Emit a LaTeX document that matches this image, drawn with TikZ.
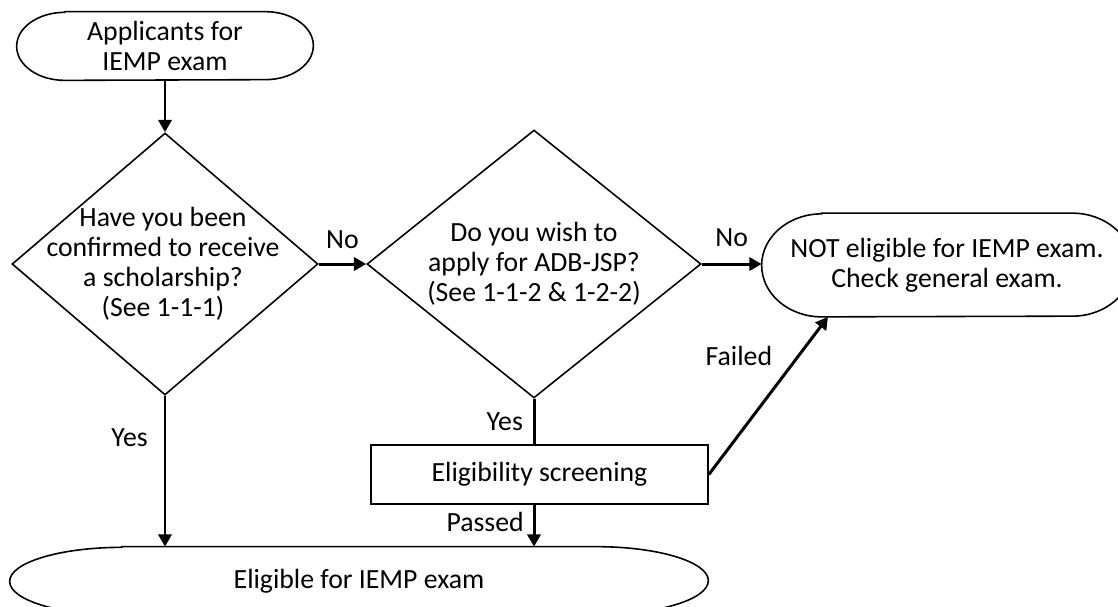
\documentclass[tikz,border=0pt]{standalone}
\usepackage{fontspec}
\setmainfont{Carlito}
\usetikzlibrary{shapes.geometric,arrows.meta,calc,positioning}
\newcommand{\pxu}{0.02cm}
\tikzset{
    -{Triangle[length=7pt,width=7.5pt]},auto,
    every edge/.append style={line width=1.7pt},
    txt/.style = {font=\fontsize{15.8}{17}\selectfont, align=center},
    term/.style ={txt, inner sep=0pt},
    decision/.style ={diamond, draw, line width=0.9pt, inner sep=0pt},
    process/.style ={txt, rectangle, draw, line width=0.9pt},
    el/.style = {txt, inner sep=2pt}
}
% terminator outline round a node: name, x radius, y radius
\newcommand{\termshape}[3]{%
  \draw[-,line width=0.9pt] ($(#1.north west)+(#2,0)$) -- ($(#1.north east)+(-#2,0)$)
    arc[start angle=90,end angle=-90,x radius=#2*\pxu,y radius=#3*\pxu]
    -- ($(#1.south west)+(#2,0)$)
    arc[start angle=270,end angle=90,x radius=#2*\pxu,y radius=#3*\pxu] -- cycle;}

\begin{document}
\begin{tikzpicture}[x=\pxu,y=\pxu]
  \useasboundingbox (0,0) rectangle (1118,-606);
  \clip (0,0) rectangle (1118,-606);

  \node[term, minimum width=296*\pxu, minimum height=68*\pxu] (start) at (165,-46) {Applicants for\\IEMP exam};

  \node[decision, minimum width=306*\pxu, minimum height=262*\pxu,
    label={[txt, xshift=-2*\pxu]center:{Have you been\\confirmed to receive\\a scholarship?\\(See 1-1-1)}}] (q1) at (165,-264) {};

  \node[decision, minimum width=334*\pxu, minimum height=268*\pxu,
    label={[txt]center:{Do you wish to\\apply for ADB-JSP?\\(See 1-1-2 \& 1-2-2)}}] (q2) at (534,-264) {};

  \node[term, minimum width=370*\pxu, minimum height=103*\pxu] (notel) at (947,-265) {NOT eligible for IEMP exam.\\Check general exam.};

  \node[process, minimum width=337*\pxu, minimum height=59*\pxu] (screen) at (539.5,-474.5) {Eligibility screening};

  \node[term, minimum width=698*\pxu, minimum height=68*\pxu] (eligible) at (359,-581) {Eligible for IEMP exam};

  \termshape{start}{48}{34}
  \termshape{notel}{60}{51.5}
  \termshape{eligible}{112}{34}

  \path (start) edge (q1);

  \path (q1) edge node[el, above=6pt] {No} (q2);

  \path (q2) edge node[el, above=7pt] {No} (q2.east -| notel.west);

  \path (q1) edge node[el, left=7pt, pos=0.28] {Yes} (q1 |- eligible.north);

  \path (q2) edge[-] node[el, left=3.5pt] {Yes} (q2 |- screen.north);

  \path (q2 |- screen.south) edge node[el, left=3pt, pos=0.41] {Passed} (q2 |- eligible.north);

  \path (screen.east) edge node[el, left=12pt, pos=0.75] {Failed} ($(notel.south)+(-119,0)$);
\end{tikzpicture}
\end{document}
